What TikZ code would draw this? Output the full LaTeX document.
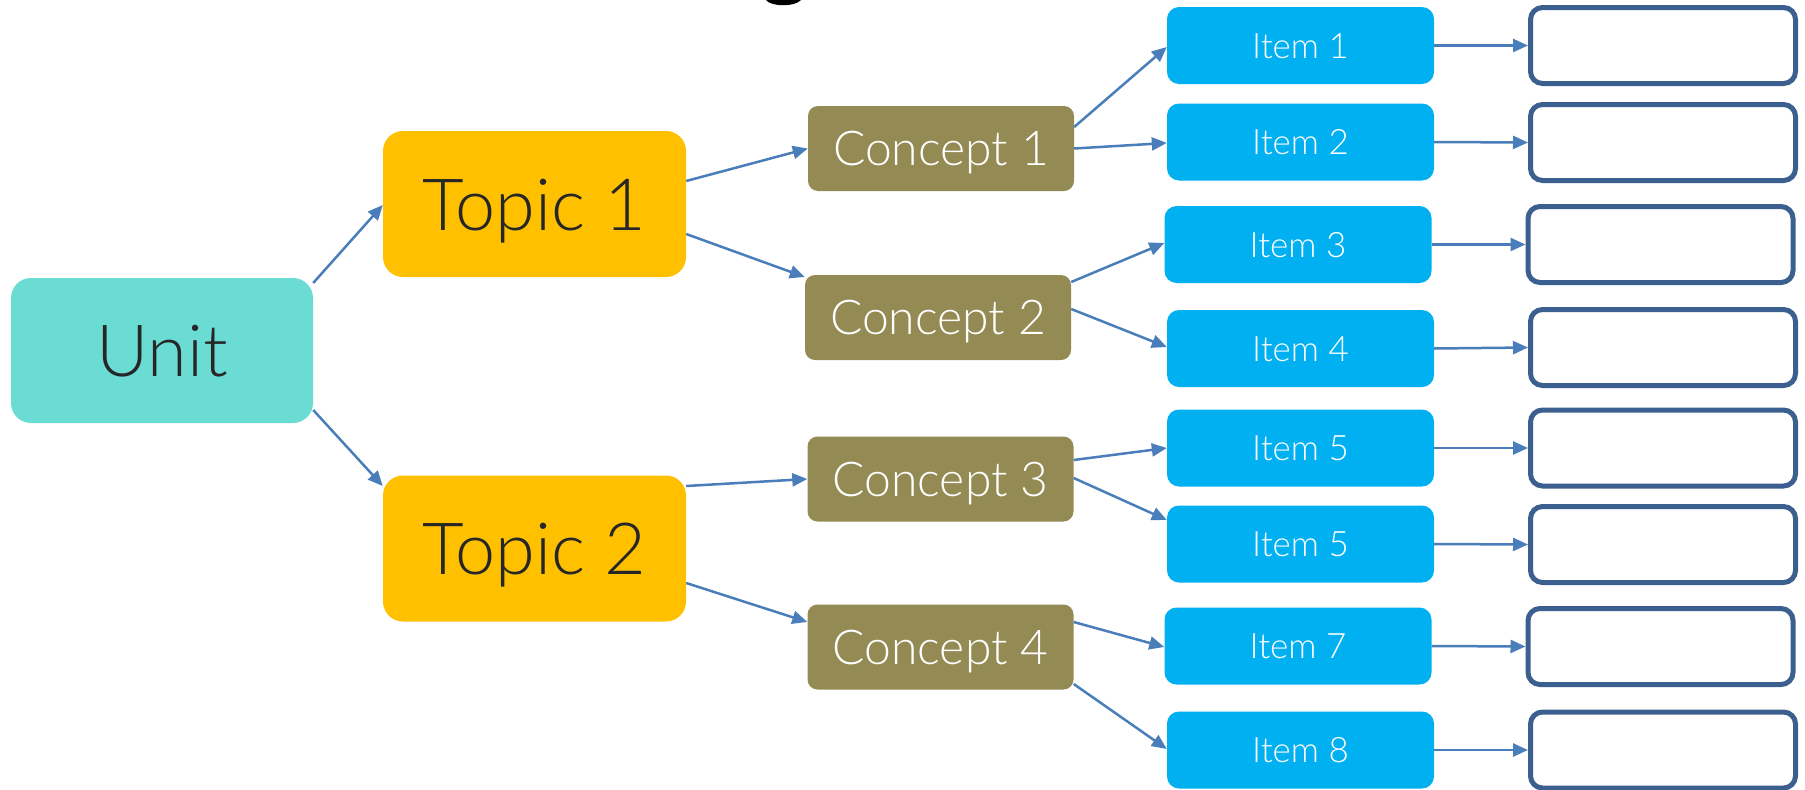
\documentclass[tikz,border=0pt]{standalone}
\usepackage{fontspec}
\setmainfont{Lato}[UprightFont=* Light]
\usetikzlibrary{arrows.meta,calc}
\definecolor{unitc}{HTML}{6BDCD4}
\definecolor{topicc}{HTML}{FFC000}
\definecolor{conc}{HTML}{948A54}
\definecolor{itemc}{HTML}{00B0F0}
\definecolor{boxc}{HTML}{3B5F8E}
\definecolor{arrc}{HTML}{4A7EBB}
\definecolor{txt}{HTML}{262626}
\begin{document}
\begin{tikzpicture}[x=1pt,y=-1pt,
  bigbox/.style={rounded corners=20pt, minimum width=303pt, minimum height=146pt, inner sep=0pt,
    text=txt, font=\fontsize{72}{76}\selectfont, text height=52pt, text depth=0pt},
  unitbox/.style={bigbox, fill=unitc, minimum width=302pt, minimum height=145pt},
  topicbox/.style={bigbox, fill=topicc},
  conceptbox/.style={fill=conc, rounded corners=10pt, minimum width=266pt, minimum height=85pt, inner sep=0pt,
    text=white, font=\fontsize{48}{52}\selectfont, text height=34pt, text depth=0pt},
  itembox/.style={fill=itemc, rounded corners=12pt, minimum width=267pt, minimum height=77pt, inner sep=0pt,
    text=white, font=\fontsize{35}{38}\selectfont, text height=25pt, text depth=0pt},
  blankbox/.style={draw=boxc, line width=5pt, fill=white, rounded corners=12pt, minimum width=265pt, minimum height=76pt, inner sep=0pt},
  conn/.style={draw=arrc, line width=2.5pt, -{Triangle[length=15pt,width=13pt]}}
]
\useasboundingbox (0,0) rectangle (1805,790);
% cut-off title glyph at the top
\fill[black] (766,0) .. controls (771,7) and (795,7) .. (801,0) -- cycle;

\node[unitbox] (unit) at (162,350.5) {Unit};
\node[topicbox] (t1) at (534.5,204) {Topic 1};
\node[topicbox] (t2) at (534.5,548.5) {Topic 2};

\node[conceptbox] (c1) at (941,148.5) {Concept 1};
\node[conceptbox] (c2) at (938,317.5) {Concept 2};
\node[conceptbox] (c3) at (940.5,479) {Concept 3};
\node[conceptbox] (c4) at (940.5,647) {Concept 4};

\node[itembox] (i1) at (1300.5,45.5) {Item 1};
\node[itembox] (i2) at (1300.5,142) {Item 2};
\node[itembox] (i3) at (1298,244.5) {Item 3};
\node[itembox] (i4) at (1300.5,348.5) {Item 4};
\node[itembox] (i5) at (1300.5,448) {Item 5};
\node[itembox] (i6) at (1300.5,544) {Item 5};
\node[itembox] (i7) at (1298,646) {Item 7};
\node[itembox] (i8) at (1300.5,750) {Item 8};

\node[blankbox] (b1) at (1663,45.5) {};
\node[blankbox] (b2) at (1663,142.5) {};
\node[blankbox] (b3) at (1660.5,244.5) {};
\node[blankbox] (b4) at (1663,347.5) {};
\node[blankbox] (b5) at (1663,448) {};
\node[blankbox] (b6) at (1663,544.5) {};
\node[blankbox] (b7) at (1660.5,646.5) {};
\node[blankbox] (b8) at (1663,750) {};

\draw[conn] ($(unit.east)+(0,-67.5)$) -- ($(t1.west)+(0,1)$);
\draw[conn] ($(unit.east)+(0,59.5)$) -- ($(t2.west)+(0,-62.5)$);

\draw[conn] ($(t1.east)+(0,-23)$) -- ($(c1.west)+(0,0)$);
\draw[conn] ($(t1.east)+(0,30)$) -- ($(c2.west)+(0,-40.5)$);
\draw[conn] ($(t2.east)+(0,-62.5)$) -- ($(c3.west)+(0,0)$);
\draw[conn] ($(t2.east)+(0,34.5)$) -- ($(c4.west)+(0,-25)$);

\draw[conn] ($(c1.east)+(0,-21.5)$) -- ($(i1.west)+(0,1.5)$);
\draw[conn] ($(c1.east)+(0,0)$) -- ($(i2.west)+(0,1)$);
\draw[conn] ($(c2.east)+(0,-35.5)$) -- ($(i3.west)+(0,-1.5)$);
\draw[conn] ($(c2.east)+(0,-8.5)$) -- ($(i4.west)+(0,-1.5)$);
\draw[conn] ($(c3.east)+(0,-19)$) -- ($(i5.west)+(0,0)$);
\draw[conn] ($(c3.east)+(0,-1)$) -- ($(i6.west)+(0,-24)$);
\draw[conn] ($(c4.east)+(0,-25)$) -- ($(i7.west)+(0,1)$);
\draw[conn] ($(c4.east)+(0,37)$) -- ($(i8.west)+(0,-1)$);

\foreach \k in {1,...,8}{
  \draw[conn] (i\k.east) -- (b\k.west);
}
\end{tikzpicture}
\end{document}
